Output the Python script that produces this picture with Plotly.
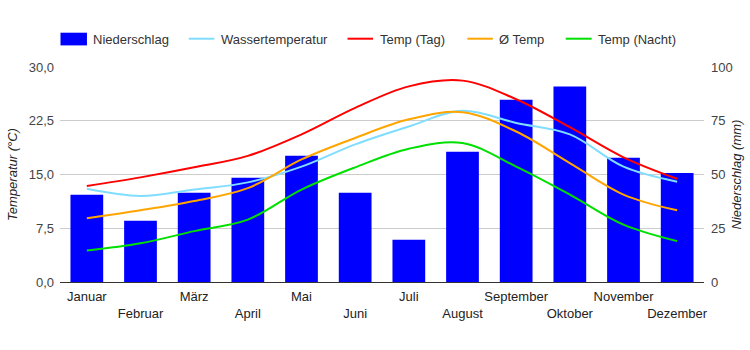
import plotly.graph_objects as go

months = ["Januar", "Februar", "März", "April", "Mai", "Juni", "Juli",
          "August", "September", "Oktober", "November", "Dezember"]
niederschlag = [40.6, 28.5, 41.5, 48.5, 58.7, 41.5, 19.7, 60.6, 84.8, 90.9, 57.8, 50.7]
wasser = [13.0, 12.0, 12.9, 13.9, 16.1, 19.2, 21.7, 23.9, 22.2, 20.6, 16.1, 14.0]
temp_tag = [13.4, 14.6, 16.0, 17.6, 20.6, 24.3, 27.3, 28.1, 25.5, 21.6, 17.4, 14.4]
temp_avg = [8.9, 10.0, 11.3, 13.1, 17.1, 20.1, 22.7, 23.7, 21.0, 16.6, 12.2, 10.0]
temp_nacht = [4.4, 5.4, 7.1, 8.7, 12.9, 16.0, 18.6, 19.4, 16.1, 12.2, 8.0, 5.7]

ticktext = [m if i % 2 == 0 else "<br>" + m for i, m in enumerate(months)]

L, R, T, B = 59.5, 704.5, 67.3, 282.3
def px(x):
    return (x - L) / (R - L)
def py(y):
    return (B - y) / (B - T)

fig = go.Figure()
fig.add_trace(go.Bar(x=months, y=niederschlag, name="Niederschlag",
                     marker=dict(color="#0000FF", line=dict(width=0)),
                     yaxis="y", width=0.61, showlegend=False))
lines = [
    ("Wassertemperatur", wasser, "#80DDFF"),
    ("Temp (Tag)", temp_tag, "#FF0000"),
    ("Ø Temp", temp_avg, "#FFA500"),
    ("Temp (Nacht)", temp_nacht, "#00E000"),
]
for name, vals, col in lines:
    fig.add_trace(go.Scatter(x=months, y=vals, name=name, mode="lines", yaxis="y2",
                             showlegend=False,
                             line=dict(color=col, width=2, shape="spline", smoothing=1.0)))

# custom legend
shapes = []
annotations = []
shapes.append(dict(type="rect", xref="paper", yref="paper",
                   x0=px(60), x1=px(86.5), y0=py(45.7), y1=py(33),
                   fillcolor="#0000FF", line=dict(width=0)))
annotations.append(dict(text="Niederschlag", xref="paper", yref="paper", x=px(91), y=py(39.5),
                        xanchor="left", yanchor="middle", showarrow=False))
leg = [(188.5, 214, 219), (347.5, 373, 378), (467.5, 493, 497), (566, 592, 596.5)]
for (x0, x1, tx), (name, vals, col) in zip(leg, lines):
    shapes.append(dict(type="line", xref="paper", yref="paper",
                       x0=px(x0), x1=px(x1), y0=py(39), y1=py(39),
                       line=dict(color=col, width=2)))
    annotations.append(dict(text=name, xref="paper", yref="paper", x=px(tx), y=py(39.5),
                            xanchor="left", yanchor="middle", showarrow=False))

fig.update_layout(
    width=750, height=350,
    margin=dict(l=L, r=750 - R, t=T, b=350 - B, autoexpand=False),
    paper_bgcolor="white", plot_bgcolor="white",
    separators=",.",
    font=dict(family="Liberation Sans, Arial, sans-serif", size=13, color="#333"),
    showlegend=False,
    shapes=shapes, annotations=annotations,
    xaxis=dict(type="category", tickvals=months, ticktext=ticktext, tickangle=0,
               range=[-0.5, 11.5], showgrid=False, showline=True, automargin=False,
               linecolor="#333", linewidth=1, ticks="", ticklabelstandoff=2,
               tickfont=dict(size=13, color="#222")),
    yaxis=dict(range=[0, 100], dtick=25, side="right", automargin=False,
               showgrid=True, gridcolor="#CCCCCC", zeroline=False, showline=False, ticks="",
               ticklabelstandoff=6,
               title=dict(text="<i>Niederschlag (mm)</i>", font=dict(size=13, color="#222"), standoff=0),
               tickfont=dict(size=13, color="#444")),
    yaxis2=dict(range=[0, 30], dtick=7.5, tickformat=".1f", overlaying="y", side="left",
                showgrid=False, zeroline=False, showline=False, ticks="", automargin=False,
                ticklabelstandoff=5,
                title=dict(text="<i>Temperatur (°C)</i>", font=dict(size=13, color="#222"), standoff=8),
                tickfont=dict(size=13, color="#444")),
)
fig.write_html("out.html")
